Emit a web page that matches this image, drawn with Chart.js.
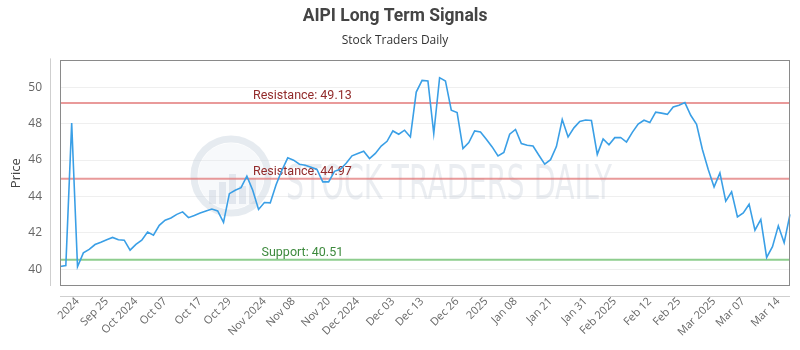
<!DOCTYPE html>
<html><head><meta charset="utf-8">
<script src="https://cdn.jsdelivr.net/npm/chart.js@4.4.1/dist/chart.umd.min.js"></script>
<style>html,body{margin:0;padding:0;background:#fff}#wrap{width:800px;height:350px}</style>
</head><body><div id="wrap"><canvas id="c" width="800" height="350"></canvas></div>
<script>
const prices = [40.14, 40.19, 48.04, 40.13, 40.89, 41.08, 41.35, 41.48, 41.62, 41.74,
  41.61, 41.59, 41.04, 41.36, 41.59, 42.04, 41.87, 42.41, 42.69, 42.81,
  43.01, 43.15, 42.83, 42.95, 43.08, 43.19, 43.30, 43.20, 42.57, 44.15,
  44.34, 44.48, 45.11, 44.34, 43.28, 43.66, 43.64, 44.64, 45.44, 46.12,
  45.99, 45.77, 45.71, 45.60, 45.48, 44.80, 44.80, 45.38, 45.49, 45.82,
  46.23, 46.36, 46.48, 46.08, 46.36, 46.77, 47.03, 47.60, 47.42, 47.64,
  47.27, 49.74, 50.38, 50.35, 47.46, 50.53, 50.35, 48.74, 48.61, 46.63,
  46.96, 47.60, 47.54, 47.14, 46.72, 46.23, 46.41, 47.42, 47.68, 46.91,
  46.81, 46.77, 46.26, 45.77, 46.02, 46.74, 48.23, 47.27, 47.77, 48.12,
  48.20, 48.17, 46.31, 47.16, 46.84, 47.23, 47.24, 46.99, 47.52, 47.98,
  48.19, 48.06, 48.63, 48.58, 48.51, 48.92, 49.01, 49.16, 48.46, 47.97,
  46.58, 45.48, 44.52, 45.29, 43.74, 44.25, 42.87, 43.09, 43.57, 42.14,
  42.73, 40.64, 41.23, 42.38, 41.45, 43.01];
const tickLabels = ['2024', 'Sep 25', 'Oct 2024', 'Oct 07', 'Oct 17', 'Oct 29', 'Nov 2024', 'Nov 08', 'Nov 20',
  'Dec 2024', 'Dec 03', 'Dec 13', 'Dec 26', '2025', 'Jan 08', 'Jan 21', 'Jan 31', 'Feb 2025', 'Feb 12',
  'Feb 25', 'Mar 2025', 'Mar 07', 'Mar 14'];
const tickIndex = [3, 8, 13, 18, 24, 29, 35, 40, 46, 51, 57, 62, 68, 73, 78, 84, 90, 95, 101, 106, 112, 117, 123];
const levelValues = [49.13, 44.97, 40.51];
const levelNames = ['Resistance', 'Resistance', 'Support'];
const yMin = 39.07, yMax = 51.48, yStep = 2;
const levelLabelIndex = 41.5;

const categories = prices.map((_, i) => {
  const k = tickIndex.indexOf(i);
  return k >= 0 ? tickLabels[k] : '';
});

const decor = {
  id: 'decor',
  beforeDatasetsDraw(chart) {
    const {ctx, chartArea: a, scales} = chart;
    ctx.save();
    // watermark logo
    const cx = 231, cy = 176;
    ctx.beginPath();
    ctx.arc(cx, cy, 37, 0, Math.PI * 2);
    ctx.lineWidth = 7;
    ctx.strokeStyle = 'rgba(200,210,222,0.45)';
    ctx.stroke();
    ctx.beginPath();
    ctx.arc(cx, cy, 33, 0, Math.PI * 2);
    ctx.fillStyle = 'rgba(225,232,240,0.25)';
    ctx.fill();
    ctx.fillStyle = 'rgba(195,205,218,0.4)';
    const bars = [[-22, 14], [-12, 22], [-2, 30], [8, 18], [18, 26]];
    bars.forEach(([dx, h]) => ctx.fillRect(cx + dx, cy + 28 - h, 7, h));
    // watermark text
    ctx.font = '48px "DejaVu Sans Condensed", "Liberation Sans Narrow", sans-serif';
    const txt = 'STOCK TRADERS DAILY';
    const w = ctx.measureText(txt).width;
    ctx.translate(286, 199);
    ctx.scale(326 / w, 1);
    ctx.fillStyle = 'rgba(190,200,212,0.33)';
    ctx.textBaseline = 'alphabetic';
    ctx.fillText(txt, 0, 0);
    ctx.restore();

    ctx.save();
    const lx = scales.x.getPixelForValue(levelLabelIndex);
    levelValues.forEach((v, i) => {
      const y = scales.y.getPixelForValue(v);
      const sup = levelNames[i] === 'Support';
      ctx.beginPath();
      ctx.moveTo(a.left, y);
      ctx.lineTo(a.right, y);
      ctx.lineWidth = 2;
      ctx.strokeStyle = sup ? 'rgba(130,200,130,0.9)' : 'rgba(225,120,120,0.75)';
      ctx.stroke();
      ctx.font = '12.5px Roboto, sans-serif';
      ctx.textAlign = 'center';
      ctx.textBaseline = 'bottom';
      ctx.fillStyle = sup ? '#3d8a3d' : '#922b2b';
      ctx.fillText(levelNames[i] + ': ' + v.toFixed(2), lx, y - 1);
    });
    ctx.restore();
  },
  afterDraw(chart) {
    const {ctx, chartArea: a} = chart;
    ctx.save();
    ctx.lineWidth = 1;
    ctx.strokeStyle = '#8a8a8a';
    ctx.strokeRect(Math.round(a.left) + 0.5, Math.round(a.top) + 0.5,
      Math.round(a.right - a.left) - 1, Math.round(a.bottom - a.top) - 1);
    ctx.strokeStyle = '#cfcfcf';
    ctx.beginPath();
    ctx.moveTo(Math.round(a.left) - 9.5, a.top - 2);
    ctx.lineTo(Math.round(a.left) - 9.5, a.bottom);
    ctx.moveTo(a.left, Math.round(a.bottom) + 10.5);
    ctx.lineTo(a.right, Math.round(a.bottom) + 10.5);
    ctx.stroke();
    ctx.restore();
  }
};

new Chart(document.getElementById('c'), {
  type: 'line',
  data: {
    labels: categories,
    datasets: [{
      label: 'Price',
      data: prices,
      borderColor: '#3a9fe6',
      backgroundColor: '#3a9fe6',
      borderWidth: 1.6,
      pointRadius: 0,
      tension: 0,
      fill: false
    }]
  },
  options: {
    responsive: false,
    animation: false,
    devicePixelRatio: 1,
    layout: {padding: {left: 0, right: 10, top: 0, bottom: 0}},
    plugins: {
      legend: {display: false},
      tooltip: {enabled: false},
      title: {
        display: true, text: 'AIPI Long Term Signals', color: '#444',
        font: {family: 'Roboto', size: 17.5, weight: 'bold'},
        padding: {top: 6, bottom: 6}
      },
      subtitle: {
        display: true, text: 'Stock Traders Daily', color: '#333',
        font: {family: '"Open Sans"', size: 12},
        padding: {top: 0, bottom: 13}
      }
    },
    scales: {
      x: {
        type: 'category',
        afterFit: s => { s.height = 64; s.paddingRight = 0; s.paddingLeft = 0; },
        grid: {display: false},
        border: {display: false},
        ticks: {
          autoSkip: false, maxRotation: 45, minRotation: 45, padding: 1,
          color: '#666', font: {family: '"Open Sans"', size: 11}
        }
      },
      y: {
        min: yMin, max: yMax,
        afterFit: s => { s.width = 60; },
        grid: {color: '#efefef', drawTicks: false},
        border: {display: false},
        ticks: {stepSize: yStep, includeBounds: false, padding: 18, color: '#666',
          font: {family: '"Open Sans"', size: 12}},
        title: {display: true, text: 'Price', color: '#444',
          font: {family: '"Open Sans"', size: 13}, padding: {top: 8, bottom: 0}}
      }
    }
  },
  plugins: [decor]
});
</script></body></html>
